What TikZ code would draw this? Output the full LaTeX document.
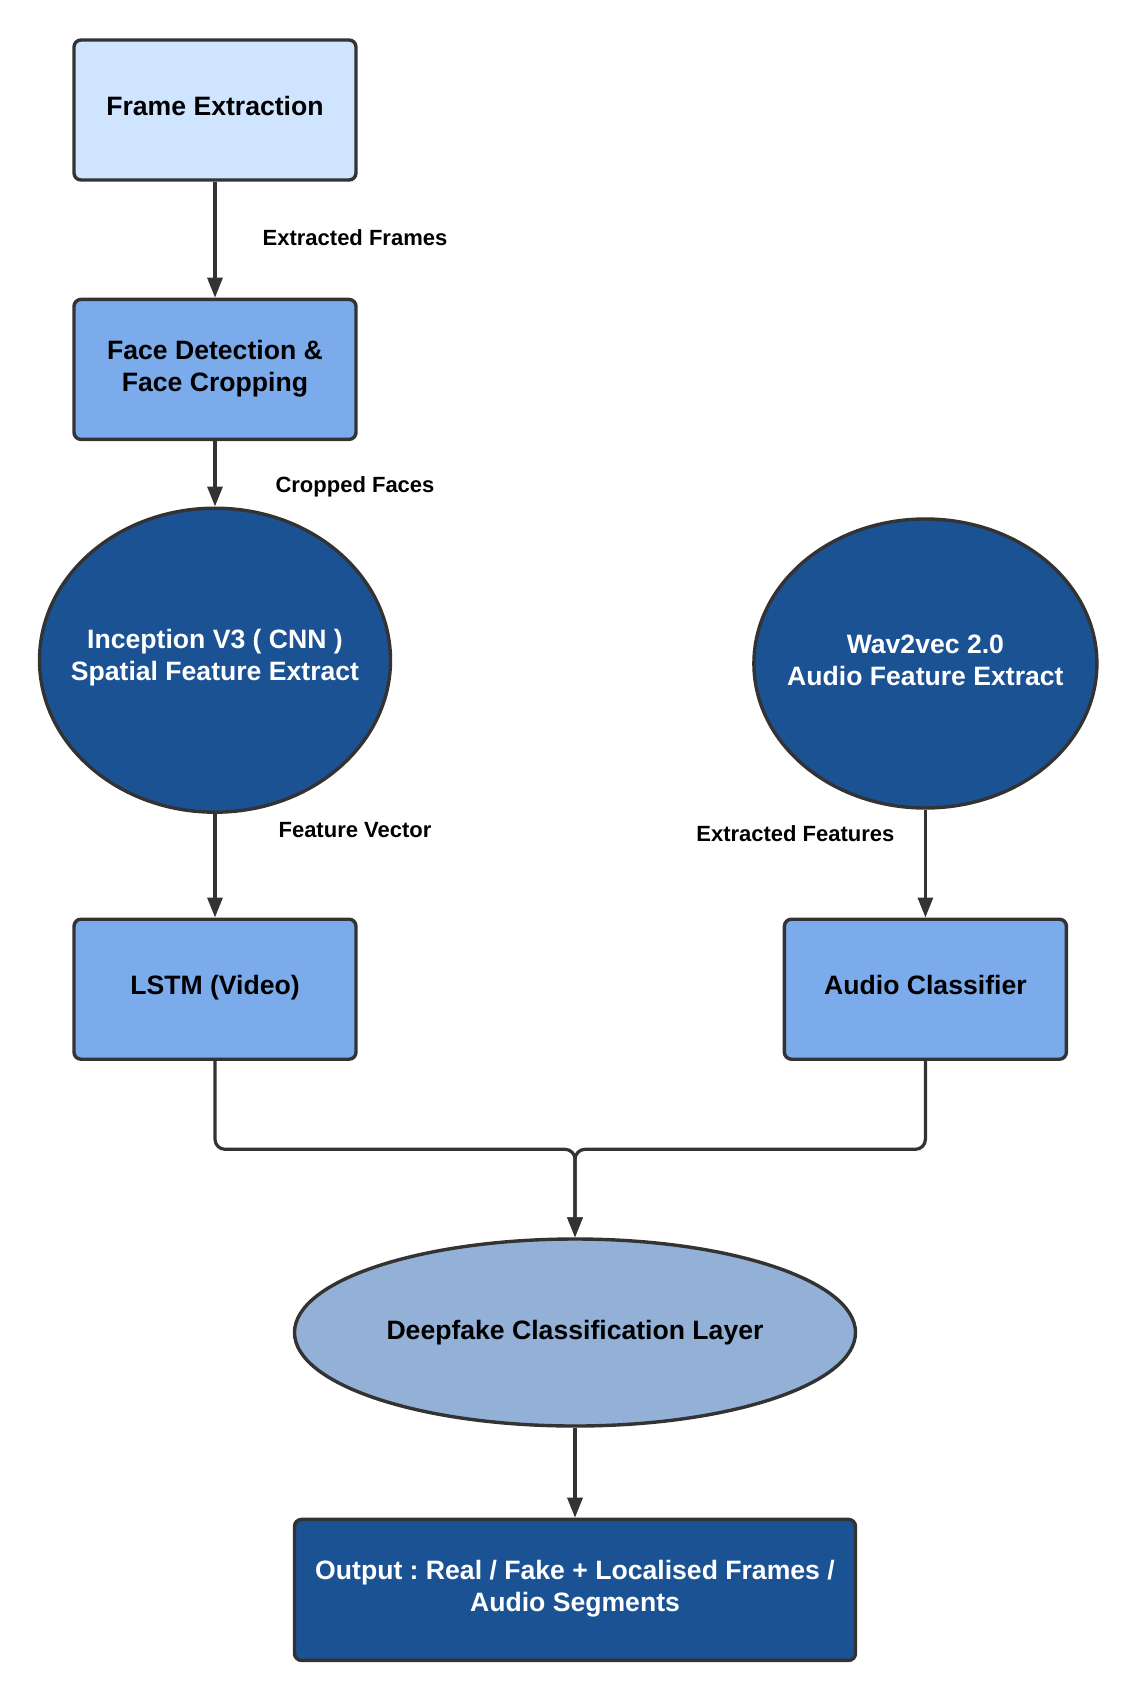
\documentclass[tikz,border=0pt]{standalone}
\usepackage{fontspec}
\setmainfont{Liberation Sans}
\frenchspacing
\usetikzlibrary{arrows.meta, positioning, calc, shapes.geometric}

\definecolor{lightblue}{HTML}{CFE4FF}
\definecolor{midblue}{HTML}{7BABEB}
\definecolor{darkblue}{HTML}{1B5294}
\definecolor{greyblue}{HTML}{93B0D6}
\definecolor{edgegrey}{HTML}{333333}

\begin{document}
\begin{tikzpicture}[
  font=\bfseries\fontsize{13.3}{16}\selectfont,
  block/.style = {draw=edgegrey, line width=1.7pt, rounded corners=3.5pt, minimum height=70pt, minimum width=141pt, align=center, text depth=4pt},
  blob/.style = {ellipse, draw=edgegrey, line width=1.7pt, inner sep=0pt},
  blobtext/.style = {align=center, text=white, yshift=1.5pt},
  arrow/.style = {draw=edgegrey, line width=1.6pt, -{Triangle[length=10pt, width=7.5pt]}},
  lbl/.style = {font=\bfseries\fontsize{11}{13}\selectfont, inner sep=0pt, text=black},
  node distance=58pt and 212.5pt
]
\useasboundingbox (0,0) rectangle (567.5pt,-850pt);

% Video branch
\node[block, fill=lightblue] (frame) at (107.5pt,-55pt) {Frame Extraction};
\node[block, fill=midblue, below=of frame] (face) {Face Detection \&\\Face Cropping};
\node[blob, fill=darkblue, minimum width=175.5pt, minimum height=152pt, below=32.7pt of face,
  label={[blobtext]center:Inception V3 ( CNN )\\Spatial Feature Extract}] (incep) {};
\node[block, fill=midblue, below=51.8pt of incep] (lstm) {LSTM (Video)};

% Audio branch
\node[block, fill=midblue, right=of lstm] (audiocls) {Audio Classifier};
\node[blob, fill=darkblue, minimum width=171.5pt, minimum height=144.5pt, above=53.9pt of audiocls,
  label={[blobtext]center:Wav2vec 2.0\\Audio Feature Extract}] (wav) {};

% Fusion and output
\node[blob, fill=greyblue, minimum width=280.5pt, minimum height=93.5pt] (deep) at (287.5pt,-666.25pt) {Deepfake Classification Layer};
\node[block, fill=darkblue, text=white, minimum width=280.5pt, minimum height=70.5pt,
  below=45pt of deep] (out) {Output : Real / Fake + Localised Frames /\\Audio Segments};

\coordinate (join) at ($(deep.north)+(0,44pt)$);

% Connectors
\draw[arrow] (frame.south) -- node[lbl, pos=0.48, xshift=70pt] {Extracted Frames} (face.north);
\draw[arrow] (face.south) -- node[lbl, pos=0.7, xshift=70pt] {Cropped Faces} (incep.north);
\draw[arrow] (incep.south) -- node[lbl, pos=0.16, xshift=70pt] {Feature Vector} (lstm.north);
\draw[arrow] (wav.south) -- node[lbl, pos=0.225, xshift=-65pt] {Extracted Features} (audiocls.north);
\draw[arrow, rounded corners=5pt] (lstm.south) |- (join) -- (deep.north);
\draw[arrow, rounded corners=5pt] (audiocls.south) |- (join) -- (deep.north);
\draw[arrow] (deep.south) -- (out.north);

\end{tikzpicture}
\end{document}
